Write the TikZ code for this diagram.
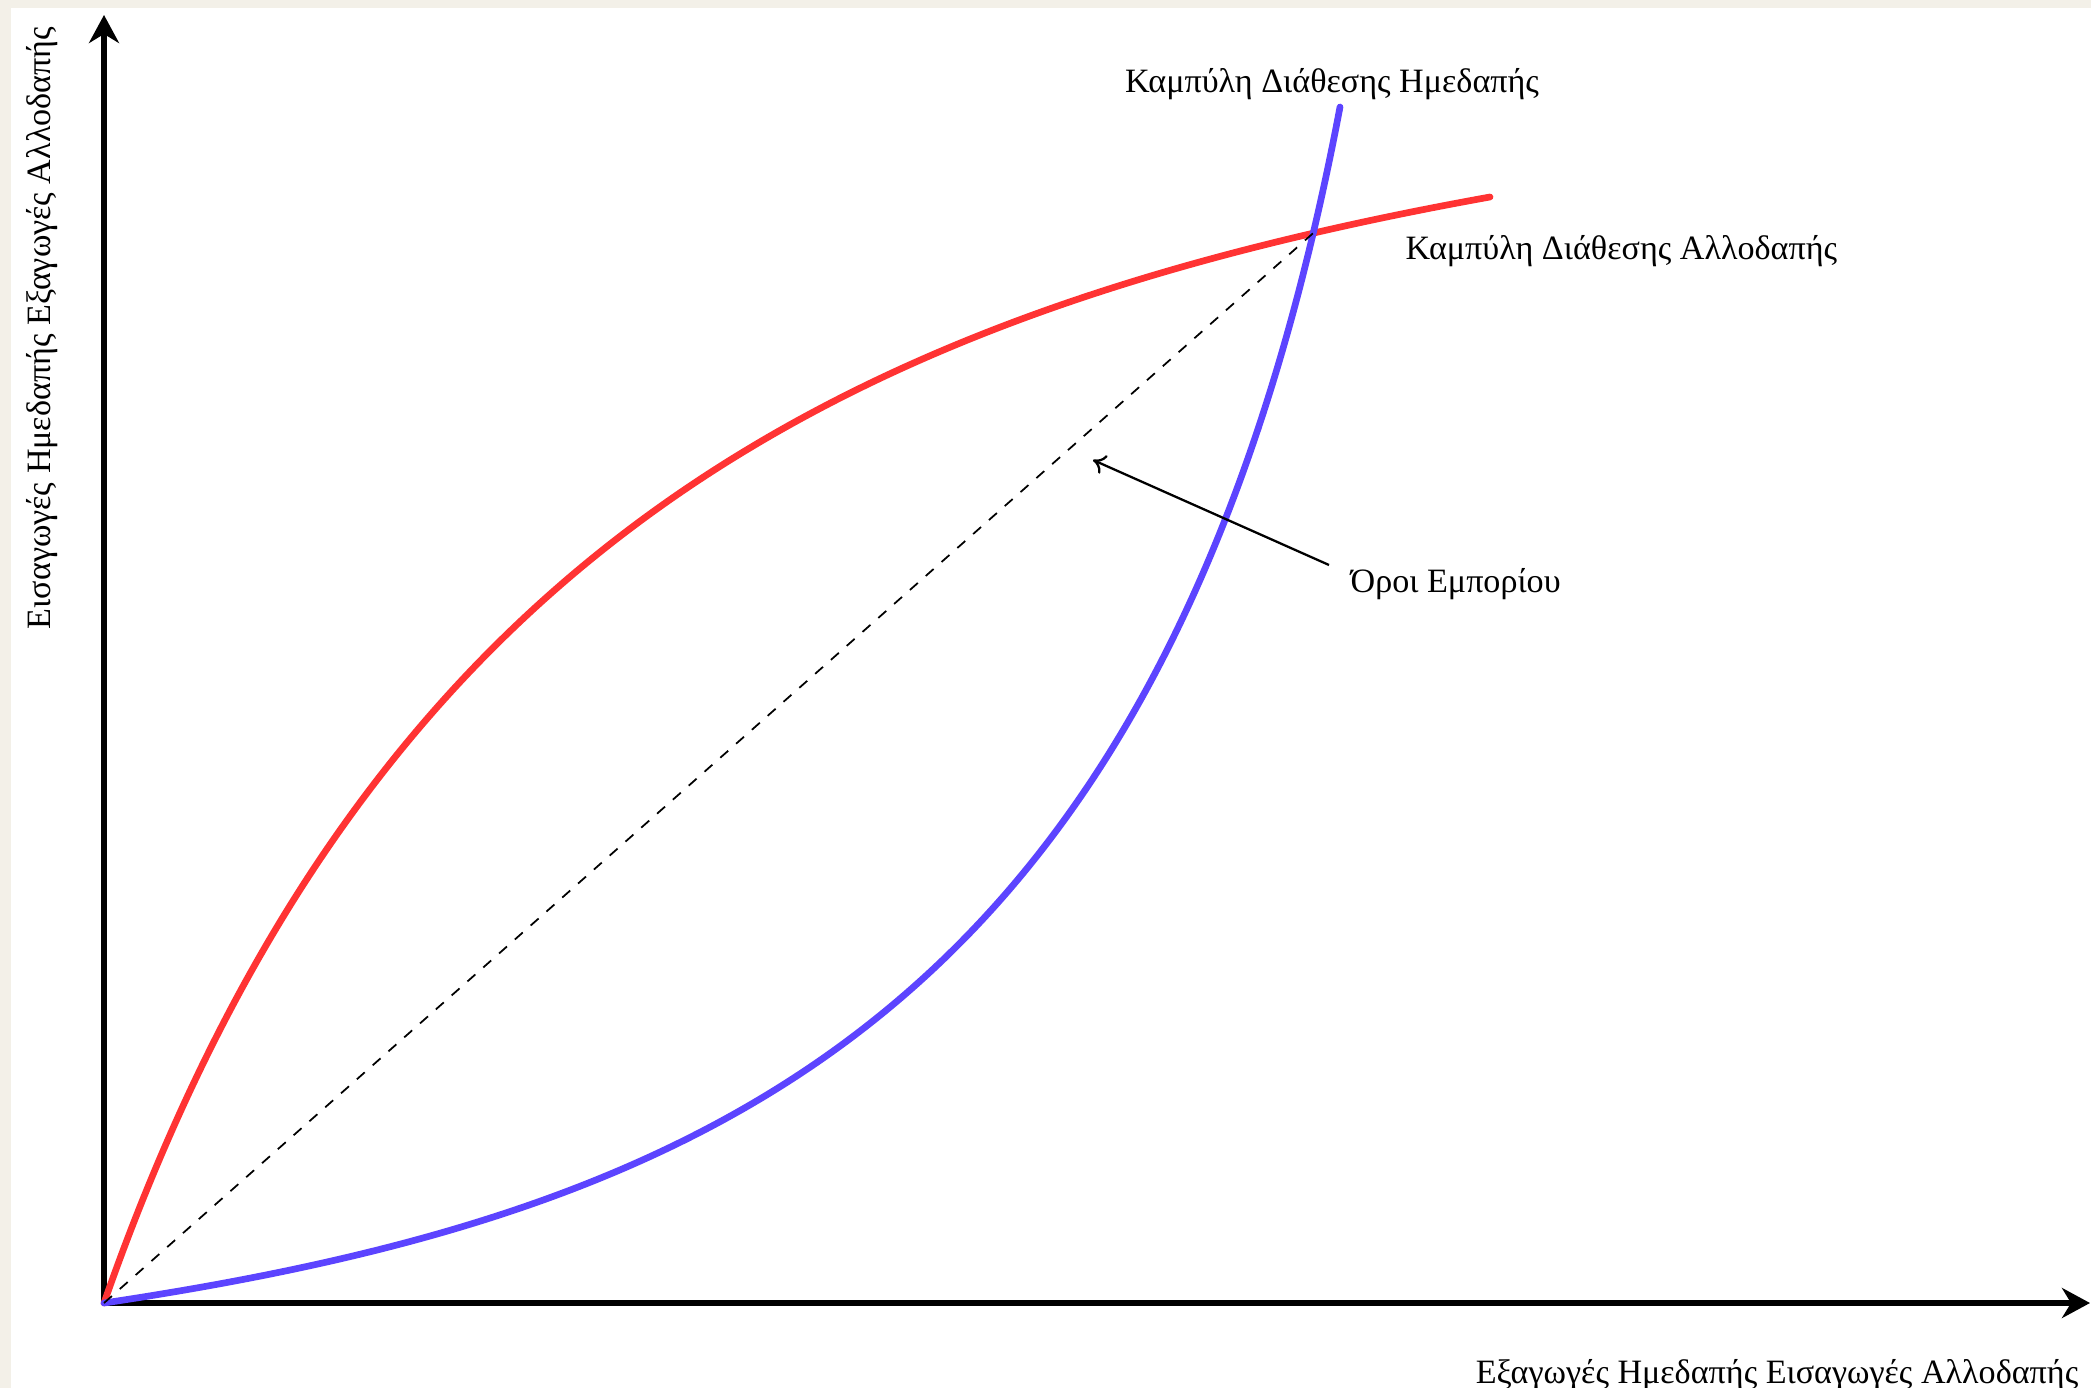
\documentclass[tikz,border=0pt]{standalone}
\usepackage{fontspec}
\setmainfont{Liberation Serif}
\usetikzlibrary{arrows.meta,intersections}
\definecolor{paper}{RGB}{243,240,232}
\definecolor{curvered}{RGB}{255,51,51}
\definecolor{curveblue}{RGB}{92,68,255}
\tikzset{
  axis/.style={line width=1.5pt,-{Stealth[length=0.28cm,width=0.3cm,inset=0.09cm]}},
  curve/.style={line width=1.9pt,line cap=round},
  lbl/.style={font=\fontsize{9.7}{12}\selectfont,inner sep=0pt},
  pointer/.style={line width=0.65pt,-{To[length=0.12cm,width=0.2cm]}},
}
\begin{document}
\begin{tikzpicture}[x=0.01cm,y=-0.01cm]
\useasboundingbox (0,0) rectangle (2091,1388);
\fill[paper] (0,0) rectangle (2091,1388);
\fill[white] (11,8) rectangle (2091,1388);
% axes
\coordinate (O) at (104,1303);
\coordinate (Ytip) at (104,15);
\coordinate (Xtip) at (2090,1303);
\draw[axis] (O) -- (Ytip);
\draw[axis] (O) -- (Xtip);
% curves
\coordinate (Rend) at (1490,197);
\coordinate (Bend) at (1340,107);
\draw[curve,curvered,name path=red] (O) .. controls (368,548) and (847,313) .. (Rend);
\draw[curve,curveblue,name path=blue] (O) .. controls (724,1210) and (1170,1004) .. (Bend);
\path[name intersections={of=red and blue,by={E0,E}}];
\draw[dashed,line width=0.5pt] (O) -- (E);
% labels
\node[lbl,anchor=base] (home) at (1332,93) {Καμπύλη Διάθεσης Ημεδαπής};
\node[lbl,anchor=base west] (foreign) at (1405,259) {Καμπύλη Διάθεσης Αλλοδαπής};
\node[lbl,anchor=base west] (tot) at (1350,592) {Όροι Εμπορίου};
\node[lbl,anchor=base east] (xlab) at (2079,1383) {Εξαγωγές Ημεδαπής Εισαγωγές Αλλοδαπής};
\node[lbl,anchor=base,rotate=90] (ylab) at (50,328) {Εισαγωγές Ημεδαπής Εξαγωγές Αλλοδαπής};
% pointer
\coordinate (Ptip) at (1093,460);
\coordinate (Pstart) at (1329,565);
\draw[pointer] (Pstart) -- (Ptip);
\end{tikzpicture}
\end{document}
